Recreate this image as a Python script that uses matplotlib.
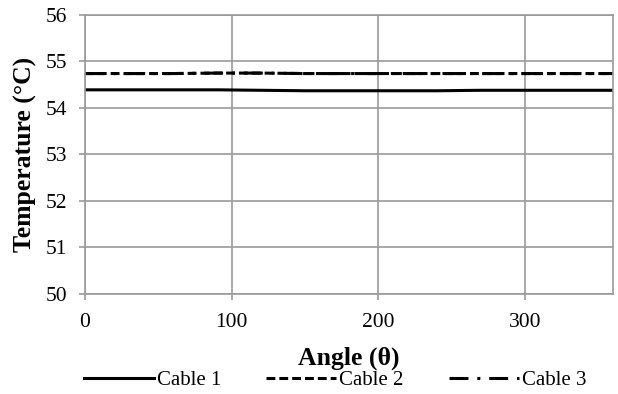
import matplotlib.pyplot as plt

plt.rcParams['font.family'] = ['Liberation Serif', 'DejaVu Serif']

# data
angle = [0, 30, 60, 90, 120, 150, 180, 210, 240, 270, 300, 330, 360]
cable1 = [54.39, 54.39, 54.39, 54.39, 54.38, 54.37, 54.37, 54.37, 54.37, 54.38, 54.38, 54.38, 54.38]
cable2 = [54.74, 54.74, 54.74, 54.75, 54.75, 54.74, 54.74, 54.74, 54.74, 54.74, 54.74, 54.74, 54.74]
cable3 = [54.74, 54.74, 54.74, 54.75, 54.75, 54.74, 54.74, 54.74, 54.74, 54.74, 54.74, 54.74, 54.74]
labels = ['Cable 1', 'Cable 2', 'Cable 3']

fig, ax = plt.subplots(figsize=(6.18, 3.94), dpi=100)
fig.subplots_adjust(left=0.1375, right=0.992, top=0.962, bottom=0.254)

ax.plot(angle, cable1, color='black', lw=2.2, ls='-', label=labels[0])
ax.plot(angle, cable2, color='black', lw=2.2, ls=(0, (2.9, 1.3)), label=labels[1])
ax.plot(angle, cable3, color='black', lw=2.2, ls=(0, (6.2, 2.9, 1, 2.9)), label=labels[2])

ax.set_xlim(0, 360)
ax.set_ylim(50, 56)
ax.set_xticks([0, 100, 200, 300])
ax.set_yticks(range(50, 57))
ax.grid(True, color='#9a9a9a', lw=1.2)
ax.set_axisbelow(True)
for s in ax.spines.values():
    s.set_color('#9a9a9a')
    s.set_linewidth(1.2)
ax.tick_params(direction='out', length=4, width=1.2, color='#9a9a9a', labelsize=15.5)
ax.tick_params(axis='y', pad=9)
ax.tick_params(axis='x', pad=10)

ax.set_xlabel('Angle (θ)', fontsize=18.5, fontweight='bold')
ax.set_ylabel('Temperature (°C)', fontsize=18.5, fontweight='bold')
ax.xaxis.set_label_coords(0.5, -0.19)
ax.yaxis.set_label_coords(-0.09, 0.5)

fig.legend(loc='center', ncol=3, frameon=False, fontsize=15,
           bbox_to_anchor=(0.542, 0.0355), handlelength=3.36, handletextpad=0.15,
           columnspacing=2.16)

plt.savefig('out.png', dpi=100)
